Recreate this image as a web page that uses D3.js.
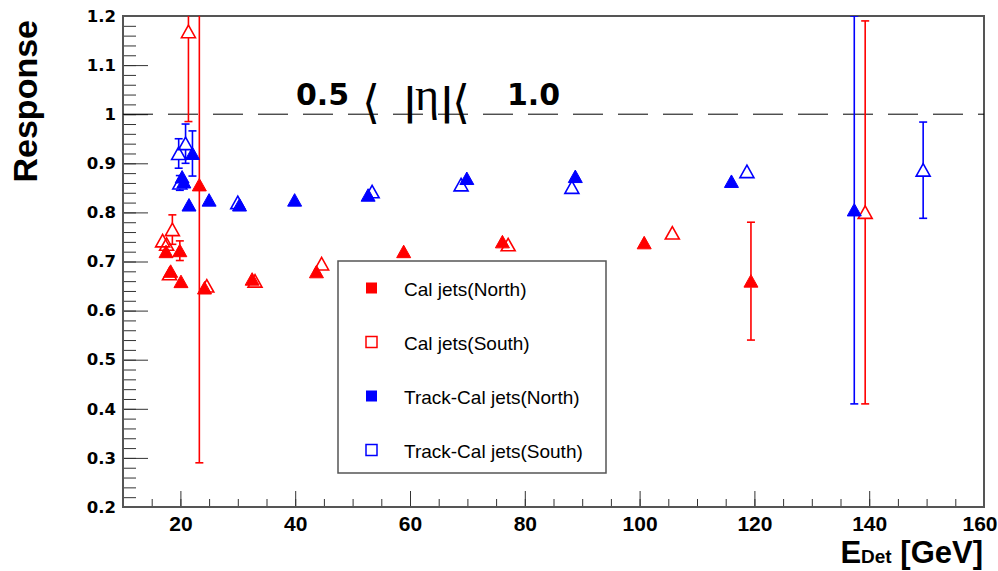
<!DOCTYPE html>
<html>
<head>
<meta charset="utf-8">
<script src="https://cdn.jsdelivr.net/npm/d3@7"></script>
<style>
  body { margin: 0; background: #fff; }
  svg { display: block; }
</style>
</head>
<body>
<svg id="chart" width="998" height="571"></svg>
<script>
// jet response vs detector energy, 0.5 < |eta| < 1.0

var xTickValues = [20, 40, 60, 80, 100, 120, 140, 160];
var yTickValues = [0.2, 0.3, 0.4, 0.5, 0.6, 0.7, 0.8, 0.9, 1, 1.1, 1.2];

// Cal jets (North) -- filled red
var calNorthE   = [17.5, 18.3, 19.9, 20.1, 23.3, 24.2, 32.5, 43.7, 58.9, 76.1, 100.8, 119.4];
var calNorthR   = [0.720, 0.680, 0.722, 0.659, 0.856, 0.646, 0.664, 0.679, 0.720, 0.740, 0.738, 0.660];
var calNorthErr = [0.01, 0.01, 0.02, 0.01, 0.566, 0.01, 0.01, 0.01, 0.01, 0.01, 0.012, 0.12];

// Cal jets (South) -- open red
var calSouthE   = [16.9, 17.6, 18.1, 18.6, 21.4, 24.6, 33.0, 44.6, 77.1, 105.7, 139.3];
var calSouthR   = [0.742, 0.735, 0.675, 0.765, 1.168, 0.650, 0.660, 0.695, 0.734, 0.758, 0.800];
var calSouthErr = [0.012, 0.01, 0.01, 0.03, 0.183, 0.01, 0.01, 0.01, 0.01, 0.01, 0.39];

// Track-Cal jets (North) -- filled blue
var tcNorthE   = [20.3, 20.6, 21.5, 22.1, 25.0, 30.3, 39.9, 52.7, 69.9, 88.8, 116.0, 137.4];
var tcNorthR   = [0.872, 0.862, 0.815, 0.920, 0.825, 0.815, 0.825, 0.835, 0.869, 0.873, 0.863, 0.805];
var tcNorthErr = [0.01, 0.01, 0.01, 0.046, 0.01, 0.01, 0.01, 0.01, 0.01, 0.01, 0.01, 0.395];

// Track-Cal jets (South) -- open blue
var tcSouthE   = [19.7, 19.9, 20.9, 30.0, 53.4, 68.9, 88.2, 118.7, 149.4];
var tcSouthR   = [0.920, 0.860, 0.940, 0.820, 0.842, 0.856, 0.851, 0.883, 0.886];
var tcSouthErr = [0.03, 0.015, 0.04, 0.01, 0.01, 0.01, 0.01, 0.01, 0.098];

var legendLabels = ["Cal jets(North)", "Cal jets(South)", "Track-Cal jets(North)", "Track-Cal jets(South)"];

///////////////////////////////////////////////////////////////////////////////
// Layout

var svg = d3.select("#chart");
var padL = 123, padR = 984, padT = 16, padB = 507;

var x = d3.scaleLinear().domain([10, 160]).range([padL, padR]);
var y = d3.scaleLinear().domain([0.2, 1.2]).range([padB, padT]);

svg.append("defs").append("clipPath").attr("id", "plotclip")
  .append("rect")
  .attr("x", padL).attr("y", padT)
  .attr("width", padR - padL).attr("height", padB - padT);

// axes -- ticks point into the frame, ROOT style
var xMinor = d3.range(10, 160.01, 5);
var yMinor = d3.range(0.2, 1.2001, 0.02);

svg.append("g")
  .attr("transform", "translate(0," + padB + ")")
  .call(d3.axisBottom(x).tickValues(xMinor).tickSizeInner(-8).tickSizeOuter(0).tickFormat(""))
  .call(function (g) { g.select(".domain").remove(); })
  .selectAll("line").attr("stroke", "#333");

svg.append("g")
  .attr("transform", "translate(0," + padB + ")")
  .call(d3.axisBottom(x).tickValues(xTickValues).tickSizeInner(-16).tickSizeOuter(0).tickPadding(9))
  .call(function (g) { g.select(".domain").remove(); })
  .call(function (g) {
    g.selectAll("line").attr("stroke", "#333");
    g.selectAll("text")
      .attr("font-family", "Liberation Sans, Arial, sans-serif")
      .attr("font-weight", "bold")
      .attr("font-size", 21)
      .attr("fill", "#000");
    // last label is pushed in so it stays on the canvas
    g.selectAll("text").filter(function (d) { return d === 160; })
      .attr("text-anchor", "end").attr("x", 13);
  });

svg.append("g")
  .attr("transform", "translate(" + padL + ",0)")
  .call(d3.axisLeft(y).tickValues(yMinor).tickSizeInner(-13).tickSizeOuter(0).tickFormat(""))
  .call(function (g) { g.select(".domain").remove(); })
  .selectAll("line").attr("stroke", "#333");

svg.append("g")
  .attr("transform", "translate(" + padL + ",0)")
  .call(d3.axisLeft(y).tickValues(yTickValues).tickSizeInner(-25).tickSizeOuter(0).tickPadding(7)
    .tickFormat(function (d) { return String(+d.toFixed(1)); }))
  .call(function (g) { g.select(".domain").remove(); })
  .call(function (g) {
    g.selectAll("line").attr("stroke", "#333");
    g.selectAll("text")
      .attr("font-family", "DejaVu Sans, sans-serif")
      .attr("font-weight", "bold")
      .attr("font-size", 16.5)
      .attr("fill", "#000");
  });

// frame
svg.append("rect")
  .attr("x", padL).attr("y", padT)
  .attr("width", padR - padL).attr("height", padB - padT)
  .attr("fill", "none")
  .attr("stroke", "#555")
  .attr("stroke-width", 2);

// reference line at response = 1
svg.append("line")
  .attr("x1", padL).attr("x2", padR)
  .attr("y1", y(1)).attr("y2", y(1))
  .attr("stroke", "#000")
  .attr("stroke-width", 1)
  .attr("stroke-dasharray", "30,15");

///////////////////////////////////////////////////////////////////////////////
// Graphs

var half = 6; // marker half height
var tri = "M0,-6.5L7,6L-7,6Z";

function drawGraph(es, rs, errs, color, open) {
  var pts = es.map(function (e, i) { return {e: e, r: rs[i], err: errs[i]}; });
  var g = svg.append("g").attr("clip-path", "url(#plotclip)");

  // error bars, broken around the marker
  var bars = g.selectAll("g.err").data(pts.filter(function (d) {
    return y(d.r - d.err) - y(d.r) > half;
  })).enter().append("g")
    .attr("stroke", color)
    .attr("stroke-width", 1.6);
  bars.append("line")
    .attr("x1", function (d) { return x(d.e); }).attr("x2", function (d) { return x(d.e); })
    .attr("y1", function (d) { return y(d.r + d.err); })
    .attr("y2", function (d) { return y(d.r) - half; });
  bars.append("line")
    .attr("x1", function (d) { return x(d.e); }).attr("x2", function (d) { return x(d.e); })
    .attr("y1", function (d) { return y(d.r) + half; })
    .attr("y2", function (d) { return y(d.r - d.err); });
  [1, -1].forEach(function (s) {
    bars.append("line")
      .attr("x1", function (d) { return x(d.e) - 4; }).attr("x2", function (d) { return x(d.e) + 4; })
      .attr("y1", function (d) { return y(d.r + s * d.err); })
      .attr("y2", function (d) { return y(d.r + s * d.err); });
  });

  g.selectAll("path.mk").data(pts).enter().append("path")
    .attr("class", "mk")
    .attr("d", tri)
    .attr("transform", function (d) { return "translate(" + x(d.e) + "," + y(d.r) + ")"; })
    .attr("fill", open ? "none" : color)
    .attr("stroke", color)
    .attr("stroke-width", open ? 1.6 : 1);
}

drawGraph(calNorthE, calNorthR, calNorthErr, "#ff0000", false);
drawGraph(calSouthE, calSouthR, calSouthErr, "#ff0000", true);
drawGraph(tcNorthE, tcNorthR, tcNorthErr, "#0000ff", false);
drawGraph(tcSouthE, tcSouthR, tcSouthErr, "#0000ff", true);

///////////////////////////////////////////////////////////////////////////////
// Legend

var leg = svg.append("g");
leg.append("rect")
  .attr("x", 338).attr("y", 261).attr("width", 268).attr("height", 212)
  .attr("fill", "#fff").attr("stroke", "#555").attr("stroke-width", 1.5);

var legColors = ["#ff0000", "#ff0000", "#0000ff", "#0000ff"];
var legOpen = [false, true, false, true];
var rows = leg.selectAll("g.row").data(legendLabels).enter().append("g")
  .attr("transform", function (d, i) { return "translate(0," + (288 + i * 54) + ")"; });
rows.append("rect")
  .attr("x", 366).attr("y", -5.5).attr("width", 11).attr("height", 11)
  .attr("fill", function (d, i) { return legOpen[i] ? "#fff" : legColors[i]; })
  .attr("stroke", function (d, i) { return legColors[i]; })
  .attr("stroke-width", function (d, i) { return legOpen[i] ? 1.5 : 0; });
rows.append("text")
  .attr("x", 404).attr("y", 8)
  .attr("font-family", "Liberation Sans, Arial, sans-serif")
  .attr("font-size", 19)
  .attr("fill", "#000")
  .text(function (d) { return d; });

///////////////////////////////////////////////////////////////////////////////
// Titles

var t = svg.append("g").attr("font-family", "DejaVu Sans, sans-serif").attr("fill", "#000");
t.append("text").attr("x", 296).attr("y", 105).attr("font-size", 30).attr("font-weight", "bold").text("0.5");
t.append("text").attr("x", 362).attr("y", 118).attr("font-size", 46).attr("font-weight", "100").text("\u27e8");
t.append("text").attr("x", 403).attr("y", 114).attr("font-size", 38).attr("font-weight", "bold").text("|");
t.append("text").attr("x", 415).attr("y", 110).attr("font-size", 46).attr("font-family", "Liberation Serif, serif").text("\u03b7");
t.append("text").attr("x", 440).attr("y", 114).attr("font-size", 38).attr("font-weight", "bold").text("|");
t.append("text").attr("x", 452).attr("y", 118).attr("font-size", 46).attr("font-weight", "100").text("\u27e8");
t.append("text").attr("x", 507).attr("y", 105).attr("font-size", 30).attr("font-weight", "bold").text("1.0");

svg.append("text")
  .attr("transform", "translate(37,20) rotate(-90)")
  .attr("text-anchor", "end")
  .attr("font-family", "Liberation Sans, Arial, sans-serif")
  .attr("font-weight", "bold")
  .attr("font-size", 34)
  .attr("fill", "#000")
  .text("Response");

var xt = svg.append("text")
  .attr("x", 983).attr("y", 563)
  .attr("text-anchor", "end")
  .attr("font-family", "Liberation Sans, Arial, sans-serif")
  .attr("font-weight", "bold")
  .attr("font-size", 31)
  .attr("fill", "#000");
xt.append("tspan").text("E");
xt.append("tspan").attr("font-size", 19).text("Det");
xt.append("tspan").text(" [GeV]");
</script>
</body>
</html>
